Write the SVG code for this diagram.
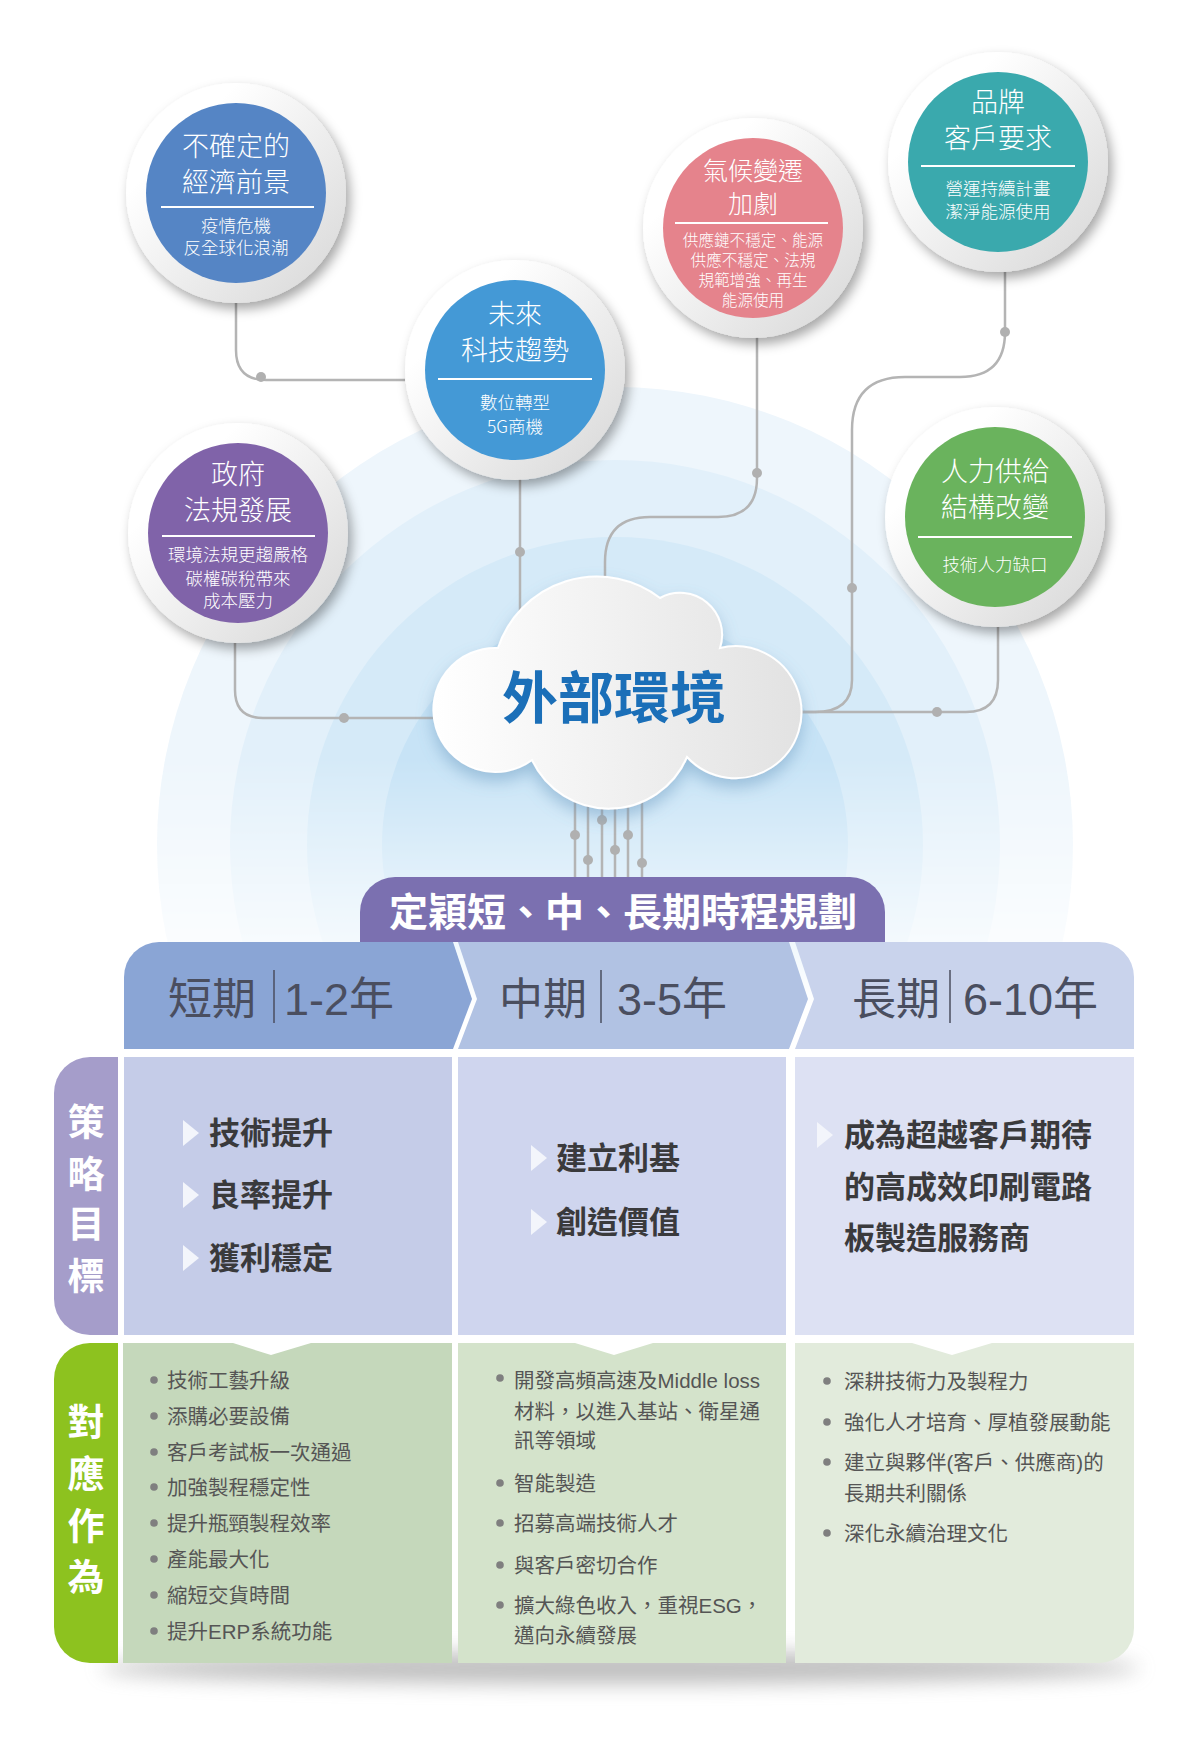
<svg xmlns="http://www.w3.org/2000/svg" width="1200" height="1750" viewBox="0 0 1200 1750">
<defs>
<style>
.ct{font-family:"Noto Sans CJK TC","Noto Sans CJK SC",sans-serif;fill:#fff;text-anchor:middle;font-weight:300}
.tt{font-size:27px}
.tt2{font-size:25px}
.ts{font-size:17.5px}
.ts2{font-size:15.6px}
.dv{stroke:#fff;stroke-width:2}
.ring{fill:url(#ringG)}
.con{fill:none;stroke:#b4b4b4;stroke-width:2.5}
.dot{fill:#b0b0b0}
.hd{font-family:"Noto Sans CJK TC","Noto Sans CJK SC",sans-serif;font-size:44px;fill:#4a4e5f}
.hn{font-family:"Liberation Sans","Noto Sans CJK TC","Noto Sans CJK SC",sans-serif;font-size:45px;fill:#4a4e5f}
.hbar{stroke:#4a4e5f;stroke-width:1.5}
.st{font-family:"Noto Sans CJK TC","Noto Sans CJK SC",sans-serif;font-size:31px;font-weight:700;fill:#3a3a3c}
.tri{fill:#f3f5fb}
.ac{font-family:"Liberation Sans","Noto Sans CJK TC","Noto Sans CJK SC",sans-serif;font-size:20.5px;fill:#555}
.bd{fill:#7f7f7f}
.lb{font-family:"Noto Sans CJK TC","Noto Sans CJK SC",sans-serif;font-size:37px;font-weight:700;fill:#fff;text-anchor:middle}
</style>
<linearGradient id="ringG" x1="0" y1="0" x2="1" y2="1">
<stop offset="0.25" stop-color="#ffffff"/>
<stop offset="1" stop-color="#d6d6d6"/>
</linearGradient>
<linearGradient id="cloudG" x1="0" y1="0" x2="1" y2="0">
<stop offset="0" stop-color="#ffffff"/>
<stop offset="1" stop-color="#e2e2e2"/>
</linearGradient>
<linearGradient id="fadeG" gradientUnits="userSpaceOnUse" x1="0" y1="380" x2="0" y2="1010">
<stop offset="0" stop-color="#fff"/>
<stop offset="0.6" stop-color="#fff"/>
<stop offset="1" stop-color="#000"/>
</linearGradient>
<mask id="fadeM">
<rect x="0" y="300" width="1200" height="760" fill="url(#fadeG)"/>
</mask>
<filter id="sh" x="-30%" y="-30%" width="160%" height="160%">
<feDropShadow dx="4" dy="6" stdDeviation="6" flood-color="#000" flood-opacity="0.35"/>
</filter>
<filter id="csh" x="-30%" y="-30%" width="160%" height="160%">
<feDropShadow dx="0" dy="8" stdDeviation="8" flood-color="#5d8fb8" flood-opacity="0.45"/>
</filter>
<filter id="blur" x="-20%" y="-200%" width="140%" height="500%">
<feGaussianBlur stdDeviation="10"/>
</filter>
</defs>

<rect width="1200" height="1750" fill="#ffffff"/>

<g id="background-rings" mask="url(#fadeM)">
<circle cx="615" cy="845" r="458" fill="#eef6fc"/>
<circle cx="615" cy="845" r="385" fill="#e2f0fa"/>
<circle cx="615" cy="845" r="308" fill="#d5eaf8"/>
<circle cx="615" cy="845" r="233" fill="#c7e3f6"/>
</g>

<g id="connectors">
<path class="con" d="M236,303 V350 Q236,380 266,380 H405"/>
<circle class="dot" cx="261" cy="377" r="5"/>
<path class="con" d="M520,460 V612"/>
<circle class="dot" cx="520" cy="552" r="5"/>
<path class="con" d="M757,318 V478 Q757,517 718,517 H650 Q605,517 605,562 V582"/>
<circle class="dot" cx="757" cy="473" r="5"/>
<path class="con" d="M1005,272 V332 Q1005,377 960,377 H905 Q852,377 852,430 V680 Q852,712 815,712 H798"/>
<circle class="dot" cx="1005" cy="332" r="5"/>
<circle class="dot" cx="852" cy="588" r="5"/>
<path class="con" d="M998,627 V680 Q998,712 966,712 H798"/>
<circle class="dot" cx="937" cy="712" r="5"/>
<path class="con" d="M235,643 V690 Q235,718 263,718 H434"/>
<circle class="dot" cx="344" cy="718" r="5"/>
<path class="con" d="M575,790 V878 M588,790 V878 M602,790 V878 M615,790 V878 M628,790 V878 M642,790 V878"/>
<circle class="dot" cx="575" cy="835" r="5"/>
<circle class="dot" cx="588" cy="860" r="5"/>
<circle class="dot" cx="602" cy="820" r="5"/>
<circle class="dot" cx="615" cy="850" r="5"/>
<circle class="dot" cx="628" cy="835" r="5"/>
<circle class="dot" cx="642" cy="863" r="5"/>
</g>

<g id="node-cloud">
<path d="M532,760 A62,62 0 1,1 498,648 A104,104 0 0,1 660,598 A42,42 0 0,1 720,648 A66,66 0 1,1 687,757 A85,85 0 0,1 532,760 Z" fill="url(#cloudG)" stroke="#ffffff" stroke-width="2" filter="url(#csh)"/>
<text x="614" y="718" text-anchor="middle" font-family="Noto Sans CJK TC, Noto Sans CJK SC, sans-serif" font-size="56" font-weight="700" fill="#1b6fb8">外部環境</text>
</g>

<g id="node-economy">
<circle class="ring" cx="236" cy="193" r="110" filter="url(#sh)"/>
<circle cx="236" cy="193" r="90" fill="#5585c5"/>
<text class="ct tt" x="236" y="155.5">不確定的<tspan x="236" dy="36">經濟前景</tspan></text>
<line class="dv" x1="161" y1="207" x2="314" y2="207"/>
<text class="ct ts" x="236" y="232">疫情危機<tspan x="236" dy="22">反全球化浪潮</tspan></text>
</g>

<g id="node-tech">
<circle class="ring" cx="515" cy="370" r="110" filter="url(#sh)"/>
<circle cx="515" cy="370" r="90" fill="#4499d6"/>
<text class="ct tt" x="515" y="324">未來<tspan x="515" dy="36">科技趨勢</tspan></text>
<line class="dv" x1="438" y1="379" x2="592" y2="379"/>
<text class="ct ts" x="515" y="409">數位轉型<tspan x="515" dy="24">5G商機</tspan></text>
</g>

<g id="node-regulation">
<circle class="ring" cx="238" cy="533" r="110" filter="url(#sh)"/>
<circle cx="238" cy="533" r="90" fill="#8063a9"/>
<text class="ct tt" x="238" y="484">政府<tspan x="238" dy="36">法規發展</tspan></text>
<line class="dv" x1="162" y1="536" x2="315" y2="536"/>
<text class="ct ts" x="238" y="561">環境法規更趨嚴格<tspan x="238" dy="24">碳權碳稅帶來</tspan><tspan x="238" dy="22">成本壓力</tspan></text>
</g>

<g id="node-climate">
<circle class="ring" cx="753" cy="228" r="110" filter="url(#sh)"/>
<circle cx="753" cy="228" r="90" fill="#e5838c"/>
<text class="ct tt2" x="753" y="180">氣候變遷<tspan x="753" dy="33">加劇</tspan></text>
<line class="dv" x1="675" y1="223" x2="828" y2="223"/>
<text class="ct ts2" x="753" y="246">供應鏈不穩定、能源<tspan x="753" dy="20">供應不穩定、法規</tspan><tspan x="753" dy="20">規範增強、再生</tspan><tspan x="753" dy="20">能源使用</tspan></text>
</g>

<g id="node-brand">
<circle class="ring" cx="998" cy="162" r="110" filter="url(#sh)"/>
<circle cx="998" cy="162" r="90" fill="#3aa9ad"/>
<text class="ct tt" x="998" y="111.5">品牌<tspan x="998" dy="36">客戶要求</tspan></text>
<line class="dv" x1="921" y1="166" x2="1075" y2="166"/>
<text class="ct ts" x="998" y="195">營運持續計畫<tspan x="998" dy="23">潔淨能源使用</tspan></text>
</g>

<g id="node-labor">
<circle class="ring" cx="995" cy="517" r="110" filter="url(#sh)"/>
<circle cx="995" cy="517" r="90" fill="#6ab35d"/>
<text class="ct tt" x="995" y="480.5">人力供給<tspan x="995" dy="36">結構改變</tspan></text>
<line class="dv" x1="918" y1="537" x2="1072" y2="537"/>
<text class="ct ts" x="995" y="571">技術人力缺口</text>
</g>

<g id="table-shadow">
<ellipse cx="620" cy="1668" rx="520" ry="16" fill="#8a8a8a" opacity="0.55" filter="url(#blur)"/>
</g>

<g id="node-banner">
<path d="M360,942 V912 A35,35 0 0 1 395,877 H850 A35,35 0 0 1 885,912 V942 Z" fill="#7b70b0"/>
<text x="623" y="926" text-anchor="middle" font-family="Noto Sans CJK TC, Noto Sans CJK SC, sans-serif" font-size="39" font-weight="700" fill="#ffffff">定穎短、中、長期時程規劃</text>
</g>

<g id="node-short-term">
<path d="M124,1049 V977 A35,35 0 0 1 159,942 H453 L472,999 L453,1049 Z" fill="#8aa5d5"/>
<text class="hd" x="168" y="1015">短期</text>
<line class="hbar" x1="274" y1="970" x2="274" y2="1023"/>
<text class="hn" x="284" y="1015">1-2年</text>
</g>
<g id="node-mid-term">
<path d="M458,942 H789 L808,999 L789,1049 H458 L477,999 Z" fill="#b1c2e3"/>
<text class="hd" x="499" y="1015">中期</text>
<line class="hbar" x1="601" y1="970" x2="601" y2="1023"/>
<text class="hn" x="617" y="1015">3-5年</text>
</g>
<g id="node-long-term">
<path d="M795,942 H1099 A35,35 0 0 1 1134,977 V1049 H795 L814,999 Z" fill="#c9d3ec"/>
<text class="hd" x="852" y="1015">長期</text>
<line class="hbar" x1="950" y1="970" x2="950" y2="1023"/>
<text class="hn" x="963" y="1015">6-10年</text>
</g>

<g id="node-strategy-label">
<path d="M118,1057 H90 A36,36 0 0 0 54,1093 V1299 A36,36 0 0 0 90,1335 H118 Z" fill="#a59dca"/>
<text class="lb" x="86" y="1135.5">策</text>
<text class="lb" x="86" y="1187.5">略</text>
<text class="lb" x="86" y="1237.5">目</text>
<text class="lb" x="86" y="1289.5">標</text>
</g>

<g id="node-strategy-short">
<rect x="124" y="1057" width="328" height="278" fill="#c5cce8"/>
<polygon class="tri" points="183,1120 199,1133 183,1146"/>
<text class="st" x="209" y="1144">技術提升</text>
<polygon class="tri" points="183,1182 199,1195 183,1208"/>
<text class="st" x="209" y="1206">良率提升</text>
<polygon class="tri" points="183,1245 199,1258 183,1271"/>
<text class="st" x="209" y="1269">獲利穩定</text>
</g>

<g id="node-strategy-mid">
<rect x="458" y="1057" width="328" height="278" fill="#cfd5ee"/>
<polygon class="tri" points="531,1145 547,1158 531,1171"/>
<text class="st" x="556" y="1169">建立利基</text>
<polygon class="tri" points="531,1209 547,1222 531,1235"/>
<text class="st" x="556" y="1233">創造價值</text>
</g>

<g id="node-strategy-long">
<rect x="795" y="1057" width="339" height="278" fill="#dde1f3"/>
<polygon class="tri" points="817,1122 833,1135 817,1148"/>
<text class="st" x="844" y="1146">成為超越客戶期待<tspan x="844" dy="52">的高成效印刷電路</tspan><tspan x="844" dy="51">板製造服務商</tspan></text>
</g>

<g id="node-action-label">
<path d="M118,1343 H90 A36,36 0 0 0 54,1379 V1627 A36,36 0 0 0 90,1663 H118 Z" fill="#8dc21f"/>
<text class="lb" x="86" y="1436">對</text>
<text class="lb" x="86" y="1488">應</text>
<text class="lb" x="86" y="1540">作</text>
<text class="lb" x="86" y="1591">為</text>
</g>

<g id="node-action-short">
<rect x="123" y="1343" width="329" height="320" fill="#c5d8bb"/>
<polygon points="233,1343 271,1355 311,1343" fill="#ffffff"/>
<circle class="bd" cx="154" cy="1380" r="3.8"/><text class="ac" x="167" y="1387.5">技術工藝升級</text>
<circle class="bd" cx="154" cy="1416" r="3.8"/><text class="ac" x="167" y="1423.5">添購必要設備</text>
<circle class="bd" cx="154" cy="1452" r="3.8"/><text class="ac" x="167" y="1459.5">客戶考試板一次通過</text>
<circle class="bd" cx="154" cy="1487" r="3.8"/><text class="ac" x="167" y="1494.5">加強製程穩定性</text>
<circle class="bd" cx="154" cy="1523" r="3.8"/><text class="ac" x="167" y="1530.5">提升瓶頸製程效率</text>
<circle class="bd" cx="154" cy="1559" r="3.8"/><text class="ac" x="167" y="1566.5">產能最大化</text>
<circle class="bd" cx="154" cy="1595" r="3.8"/><text class="ac" x="167" y="1602.5">縮短交貨時間</text>
<circle class="bd" cx="154" cy="1631" r="3.8"/><text class="ac" x="167" y="1638.5">提升ERP系統功能</text>
</g>

<g id="node-action-mid">
<rect x="458" y="1343" width="328" height="320" fill="#d4e3cb"/>
<polygon points="575,1343 614,1355 653,1343" fill="#ffffff"/>
<circle class="bd" cx="500" cy="1378" r="3.8"/><text class="ac" x="514" y="1387.5">開發高頻高速及Middle loss<tspan x="514" dy="31">材料，以進入基站、衛星通</tspan><tspan x="514" dy="29">訊等領域</tspan></text>
<circle class="bd" cx="500" cy="1483" r="3.8"/><text class="ac" x="514" y="1490.5">智能製造</text>
<circle class="bd" cx="500" cy="1523" r="3.8"/><text class="ac" x="514" y="1530.5">招募高端技術人才</text>
<circle class="bd" cx="500" cy="1565" r="3.8"/><text class="ac" x="514" y="1572.5">與客戶密切合作</text>
<circle class="bd" cx="500" cy="1605" r="3.8"/><text class="ac" x="514" y="1612.5">擴大綠色收入，重視ESG，<tspan x="514" dy="30">邁向永續發展</tspan></text>
</g>

<g id="node-action-long">
<path d="M795,1343 H1134 V1628 A35,35 0 0 1 1099,1663 H795 Z" fill="#e2ebdc"/>
<polygon points="912,1343 952,1355 992,1343" fill="#ffffff"/>
<circle class="bd" cx="827" cy="1381" r="3.8"/><text class="ac" x="844" y="1388.5">深耕技術力及製程力</text>
<circle class="bd" cx="827" cy="1422" r="3.8"/><text class="ac" x="844" y="1429.5">強化人才培育、厚植發展動能</text>
<circle class="bd" cx="827" cy="1462" r="3.8"/><text class="ac" x="844" y="1469.5">建立與夥伴(客戶、供應商)的<tspan x="844" dy="31">長期共利關係</tspan></text>
<circle class="bd" cx="827" cy="1533" r="3.8"/><text class="ac" x="844" y="1540.5">深化永續治理文化</text>
</g>
</svg>
